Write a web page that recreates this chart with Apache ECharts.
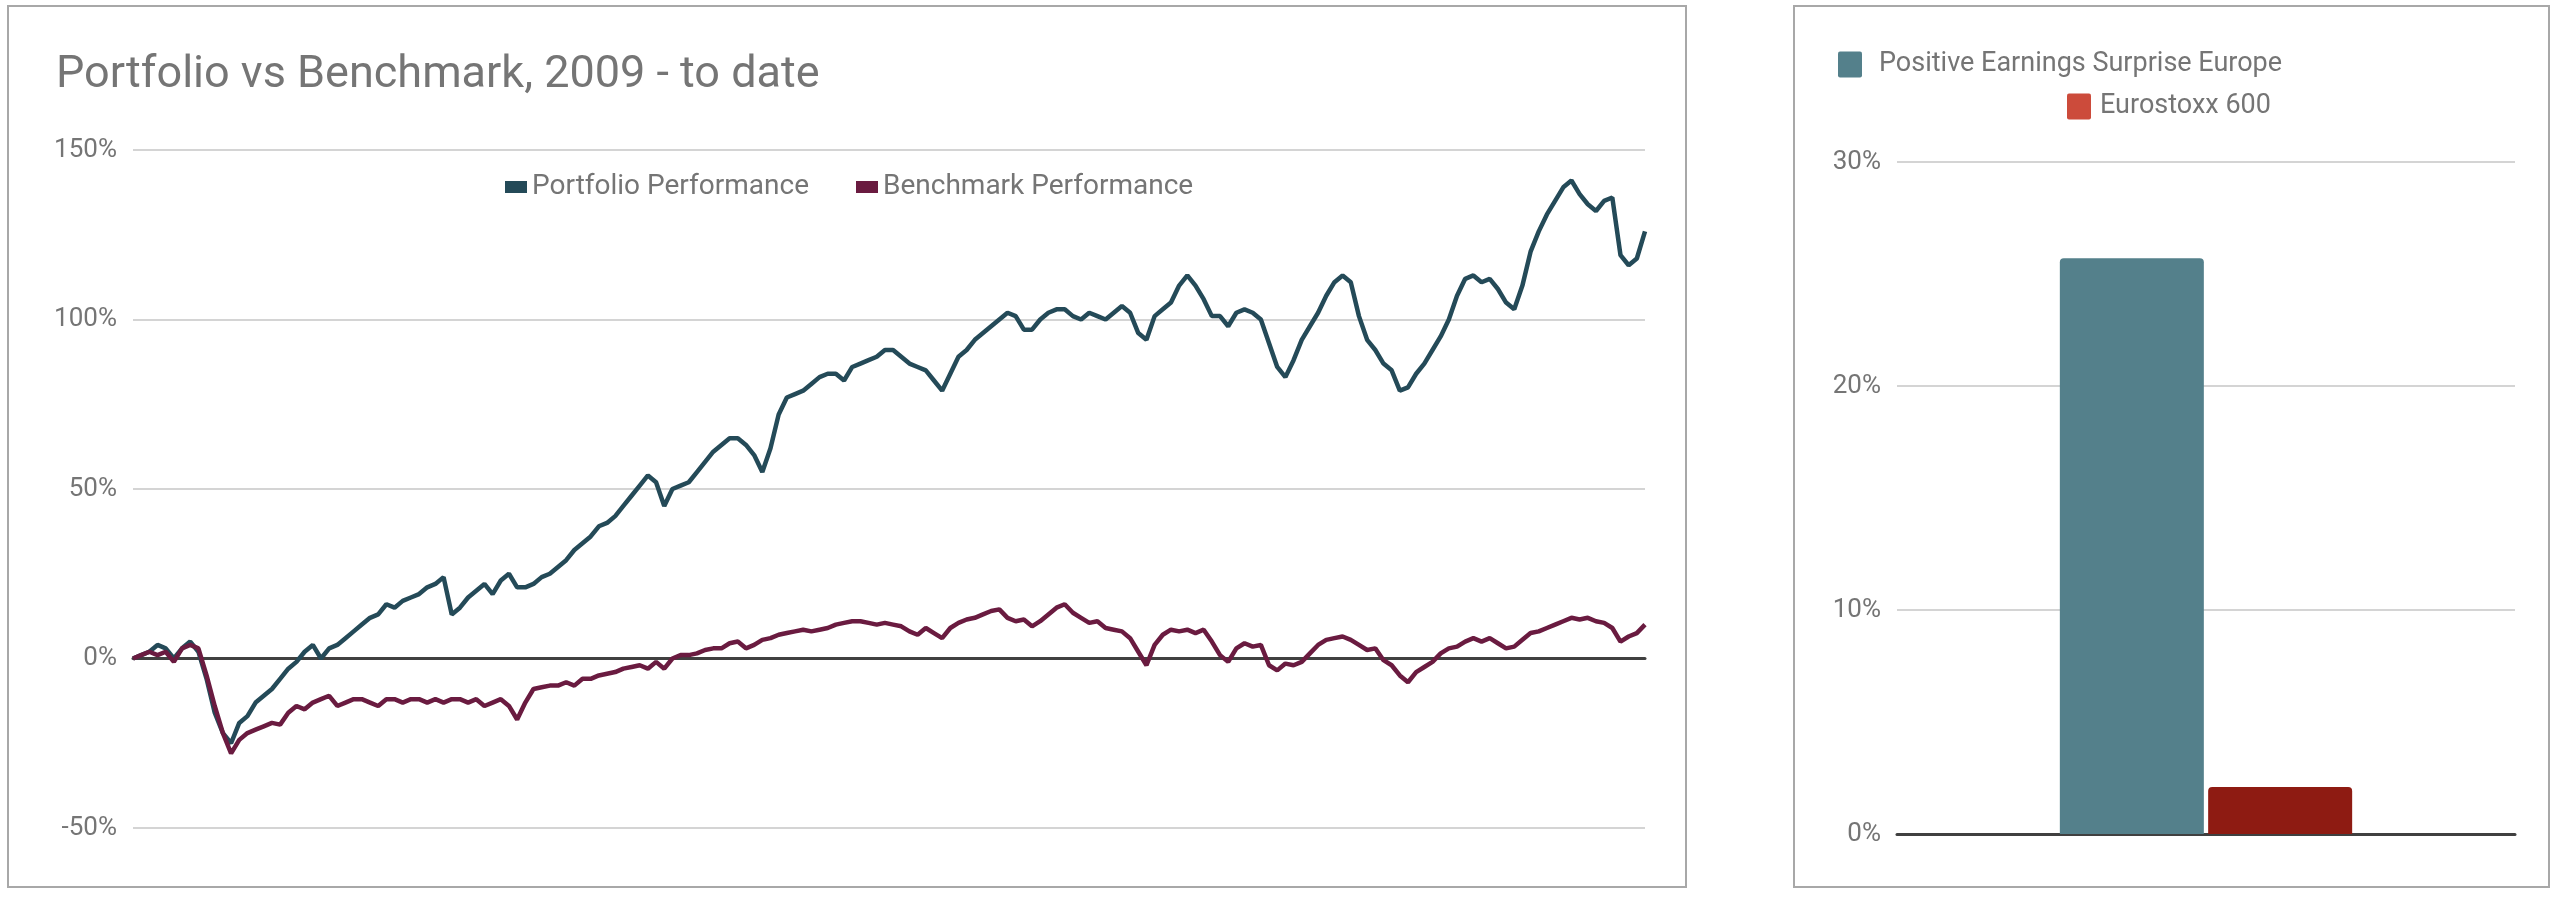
<!DOCTYPE html>
<html>
<head>
<meta charset="utf-8">
<script src="https://cdn.jsdelivr.net/npm/echarts@6/dist/echarts.min.js"></script>
<style>
html,body{margin:0;padding:0;background:#fff;}
#c{width:2560px;height:900px;}
</style>
</head>
<body>
<div id="c"></div>
<script>
const titleText = 'Portfolio vs Benchmark, 2009 - to date';
const lineSeriesNames = ['Portfolio Performance', 'Benchmark Performance'];
const portfolio = [0,1,2,4,3,0,3,5,2,-6,-16,-22,-25,-19,-17,-13,-11,-9,-6,-3,-1,2,4,0,3,4,6,8,10,12,13,16,15,17,18,19,21,22,24,13,15,18,20,22,19,23,25,21,21,22,24,25,27,29,32,34,36,39,40,42,45,48,51,54,52,45,50,51,52,55,58,61,63,65,65,63,60,55,62,72,77,78,79,81,83,84,84,82,86,87,88,89,91,91,89,87,86,85,82,79,84,89,91,94,96,98,100,102,101,97,97,100,102,103,103,101,100,102,101,100,102,104,102,96,94,101,103,105,110,113,110,106,101,101,98,102,103,102,100,93,86,83,88,94,98,102,107,111,113,111,101,94,91,87,85,79,80,84,87,91,95,100,107,112,113,111,112,109,105,103,110,120,126,131,135,139,141,137,134,132,135,136,119,116,118,126];
const benchmark = [0,1,2,1,2,-1,3,4,3,-5,-14,-22,-28,-24,-22,-21,-20,-19,-19.5,-16,-14,-15,-13,-12,-11,-14,-13,-12,-12,-13,-14,-12,-12,-13,-12,-12,-13,-12,-13,-12,-12,-13,-12,-14,-13,-12,-14,-18,-13,-9,-8.5,-8,-8,-7,-8,-6,-6,-5,-4.5,-4,-3,-2.5,-2,-3,-1,-3,0,1,1,1.5,2.5,3,3,4.5,5,3,4,5.5,6,7,7.5,8,8.5,8,8.5,9,10,10.5,11,11,10.5,10,10.5,10,9.5,8,7,9,7.5,6,9,10.5,11.5,12,13,14,14.5,12,11,11.5,9.5,11,13,15,16,13.5,12,10.5,11,9,8.5,8,6,2,-2,4,7,8.5,8,8.5,7.5,8.5,5,1,-1,3,4.5,3.5,4,-2,-3.5,-1.5,-2,-1,1.5,4,5.5,6,6.5,5.5,4,2.5,3,-0.5,-2,-5,-7,-4,-2.5,-1,1.5,3,3.5,5,6,5,6,4.5,3,3.5,5.5,7.5,8,9,10,11,12,11.5,12,11,10.5,9,5,6.5,7.5,10];
const leftTicks = [-50, 0, 50, 100, 150];
const barCategories = ['Return'];
const barSeriesNames = ['Positive Earnings Surprise Europe', 'Eurostoxx 600'];
const barValues = [25.7, 2.1];
const rightTicks = [0, 10, 20, 30];

const idx = portfolio.map((_, i) => i);
const FONT = 'Roboto, "Noto Sans", sans-serif';
const GRAY = '#757575';
const SQ = 'path://M2,0 L22,0 Q24,0 24,2 L24,24 Q24,26 22,26 L2,26 Q0,26 0,24 L0,2 Q0,0 2,0 Z';

const chart = echarts.init(document.getElementById('c'), null, {renderer: 'canvas'});
chart.setOption({
  animation: false,
  backgroundColor: '#fff',
  textStyle: {fontFamily: FONT},
  title: {
    text: titleText, left: 51, top: 48,
    textStyle: {fontFamily: FONT, fontSize: 45, fontWeight: 'normal', color: GRAY}
  },
  graphic: [
    {type: 'rect', shape: {x: 8, y: 6, width: 1678, height: 881}, style: {fill: 'none', stroke: '#a8a8a8', lineWidth: 2}, silent: true},
    {type: 'rect', shape: {x: 1794, y: 6, width: 755, height: 881}, style: {fill: 'none', stroke: '#a8a8a8', lineWidth: 2}, silent: true}
  ],
  legend: [
    {
      data: lineSeriesNames, left: 500, top: 168, itemWidth: 22, itemHeight: 12, itemGap: 47,
      icon: 'rect', textStyle: {fontFamily: FONT, fontSize: 28, color: GRAY}
    },
    {
      data: [{name: barSeriesNames[0], itemStyle: {color: '#54808b'}}],
      left: 1833, top: 46, itemWidth: 24, itemHeight: 26, icon: SQ,
      textStyle: {fontFamily: FONT, fontSize: 27, color: GRAY, padding: [0, 0, 0, 12]}
    },
    {
      data: [{name: barSeriesNames[1], itemStyle: {color: '#cc4b3b'}}],
      left: 2062, top: 88, itemWidth: 24, itemHeight: 26, icon: SQ,
      textStyle: {fontFamily: FONT, fontSize: 27, color: GRAY, padding: [0, 0, 0, 4]}
    }
  ],
  grid: [
    {left: 133, right: 915, top: 150, bottom: 72, containLabel: false},
    {left: 1897, right: 45, top: 162, bottom: 66, containLabel: false}
  ],
  xAxis: [
    {
      type: 'category', gridIndex: 0, data: idx, boundaryGap: false,
      axisLine: {show: true, onZero: true, lineStyle: {color: '#404040', width: 3}},
      axisTick: {show: false}, axisLabel: {show: false}, splitLine: {show: false}
    },
    {
      type: 'category', gridIndex: 1, data: barCategories,
      axisLine: {show: true, lineStyle: {color: '#404040', width: 3}},
      axisTick: {show: false}, axisLabel: {show: false}, splitLine: {show: false}
    }
  ],
  yAxis: [
    {
      type: 'value', gridIndex: 0, min: leftTicks[0], max: leftTicks[leftTicks.length - 1], interval: 50,
      axisLine: {show: false}, axisTick: {show: false},
      axisLabel: {formatter: '{value}%', fontFamily: FONT, fontSize: 26, color: GRAY, margin: 16},
      splitLine: {show: true, lineStyle: {color: '#d4d4d4', width: 2}}
    },
    {
      type: 'value', gridIndex: 1, min: rightTicks[0], max: rightTicks[rightTicks.length - 1], interval: 10,
      axisLine: {show: false}, axisTick: {show: false},
      axisLabel: {formatter: '{value}%', fontFamily: FONT, fontSize: 26, color: GRAY, margin: 16},
      splitLine: {show: true, lineStyle: {color: '#d4d4d4', width: 2}}
    }
  ],
  series: [
    {
      name: lineSeriesNames[0], type: 'line', xAxisIndex: 0, yAxisIndex: 0, data: portfolio,
      showSymbol: false, symbol: 'none', lineStyle: {color: '#244a58', width: 4.5}, itemStyle: {color: '#244a58'}
    },
    {
      name: lineSeriesNames[1], type: 'line', xAxisIndex: 0, yAxisIndex: 0, data: benchmark,
      showSymbol: false, symbol: 'none', lineStyle: {color: '#6a1b40', width: 4.5}, itemStyle: {color: '#6a1b40'}
    },
    {
      name: barSeriesNames[0], type: 'bar', xAxisIndex: 1, yAxisIndex: 1, data: [barValues[0]],
      barWidth: 144, barGap: '3%', itemStyle: {color: '#54808b', borderRadius: [4, 4, 0, 0]}
    },
    {
      name: barSeriesNames[1], type: 'bar', xAxisIndex: 1, yAxisIndex: 1, data: [barValues[1]],
      barWidth: 144, barGap: '3%', itemStyle: {color: '#8e1b12', borderRadius: [4, 4, 0, 0]}
    }
  ]
});
</script>
</body>
</html>
